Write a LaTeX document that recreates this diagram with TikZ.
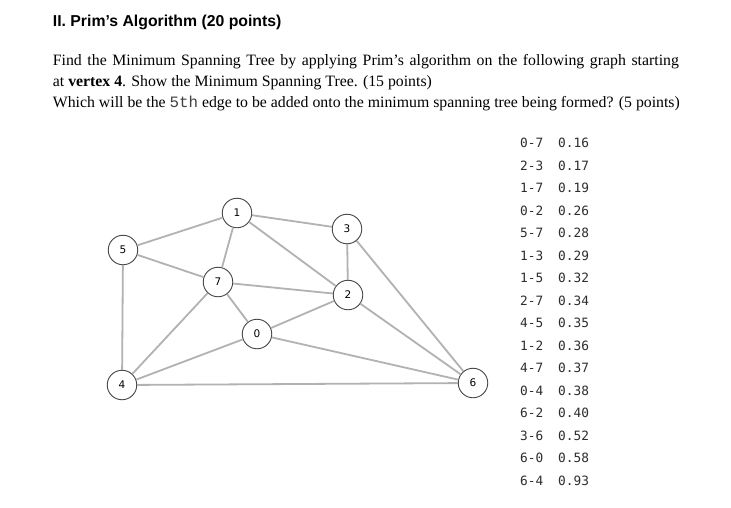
\documentclass[tikz,border=0pt]{standalone}
\usepackage{fontspec}
\setmainfont{Liberation Serif}
\newfontfamily\titlefont{Liberation Sans}
\newfontfamily\codefont{Liberation Mono}
\newfontfamily\tabfont{DejaVu Sans Mono}
\newfontfamily\vfont{DejaVu Sans}
\definecolor{edgegray}{RGB}{178,178,178}
\definecolor{circgray}{RGB}{70,70,70}
\definecolor{tabgray}{RGB}{45,45,45}
\begin{document}
\begin{tikzpicture}[x=1pt,y=-1pt,
  vert/.style={circle,draw=circgray,line width=0.9pt,fill=white,minimum size=29.5pt,inner sep=0pt,font=\vfont\fontsize{10.5}{10.5}\selectfont},
  edge/.style={draw=edgegray,line width=1.8pt},
  txt/.style={anchor=base west,inner sep=0pt,font=\fontsize{15.8}{15.8}\selectfont},
  tab/.style={anchor=base west,inner sep=0pt,text=tabgray,font=\tabfont\fontsize{12.8}{12.8}\selectfont}]
\useasboundingbox (0,0) rectangle (731,507);
\fill[white] (0,0) rectangle (731,507);
\node[anchor=base west,inner sep=0pt,font=\titlefont\bfseries\fontsize{15.8}{15.8}\selectfont] (title) at (52.7,26) {II. Prim’s Algorithm (20 points)};
\node[txt] (l1) at (52.7,65) {\makebox[626pt][s]{Find the Minimum Spanning Tree by applying Prim’s algorithm on the following graph starting}};
\node[txt] (l2) at (52.7,86) {at \textbf{vertex 4}. Show the Minimum Spanning Tree. (15 points)};
\node[txt] (l3) at (52.7,107) {Which will be the {\codefont\color{darkgray}5th} edge to be added onto the minimum spanning tree being formed? (5 points)};
% vertices
\node[vert] (v1) at (237,213) {1};
\node[vert] (v5) at (123,250) {5};
\node[vert] (v7) at (218,282) {7};
\node[vert] (v3) at (347,229) {3};
\node[vert] (v2) at (348,295) {2};
\node[vert] (v0) at (257,334) {0};
\node[vert] (v4) at (122,385) {4};
\node[vert] (v6) at (473,383) {6};
\foreach \a/\b in {v5/v1,v1/v7,v1/v3,v1/v2,v5/v7,v7/v2,v7/v0,v7/v4,v0/v4,v0/v2,v0/v6,v4/v6,v4/v5,v3/v2,v3/v6,v2/v6}
  \draw[edge] (\a) -- (\b);
% table
\foreach \e/\w [count=\i from 0] in {0-7/0.16,2-3/0.17,1-7/0.19,0-2/0.26,5-7/0.28,1-3/0.29,1-5/0.32,2-7/0.34,4-5/0.35,1-2/0.36,4-7/0.37,0-4/0.38,6-2/0.40,3-6/0.52,6-0/0.58,6-4/0.93}{
  \node[tab] (e\i) at (520,{147.5+22.53*\i}) {\e};
  \node[tab] (w\i) at (558,{147.5+22.53*\i}) {\w};
}
\end{tikzpicture}
\end{document}
